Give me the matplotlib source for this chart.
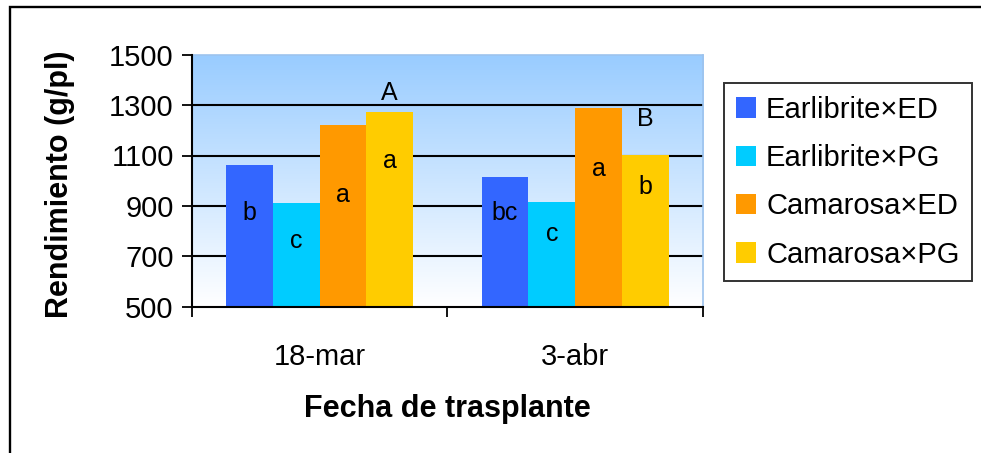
import numpy as np
import matplotlib
matplotlib.use("Agg")
import matplotlib.pyplot as plt
from matplotlib.patches import Rectangle

plt.rcParams['font.family'] = ['Liberation Sans', 'DejaVu Sans']

# --- data ---
fechas = ['18-mar', '3-abr']
series = ['Earlibrite×ED', 'Earlibrite×PG', 'Camarosa×ED', 'Camarosa×PG']
rendimiento = [
    [1063, 1015],   # Earlibrite×ED
    [910, 917],     # Earlibrite×PG
    [1223, 1287],   # Camarosa×ED
    [1271, 1103],   # Camarosa×PG
]
letras = [['b', 'bc'], ['c', 'c'], ['a', 'a'], ['a', 'b']]
letras_y = [[845, 845], [733, 759], [915, 1019], [1050, 948]]
grupo_letra = ['A', 'B']
grupo_y = [1320, 1217]
colores = ['#3366FF', '#00CCFF', '#FF9900', '#FFCC00']

W, H = 981, 453
fig = plt.figure(figsize=(W / 100, H / 100), dpi=100)

# outer chart frame (runs off right and bottom edge)
fig.patches.append(Rectangle((10 / W, -0.05), 1.2, 1.05 - 7 / H,
                             transform=fig.transFigure, fill=False,
                             edgecolor='black', lw=1.7))

ax = fig.add_axes([191.8 / W, 1 - 306.7 / H, (703 - 191.8) / W, (306.7 - 54.7) / H])

# gradient plot area: light blue at top to white at bottom
grad = np.linspace(0, 1, 256)[:, None]
top = np.array([153, 204, 255]) / 255
bot = np.array([255, 255, 255]) / 255
img = top[None, None, :] * (1 - grad[:, :, None]) + bot[None, None, :] * grad[:, :, None]
ax.imshow(img, extent=[0, 1, 0, 1], transform=ax.transAxes, aspect='auto', zorder=0)

x = np.arange(len(fechas))
bw = 0.183
for i, (vals, col) in enumerate(zip(rendimiento, colores)):
    xs = x + (i - 1.5) * bw
    ax.bar(xs, np.array(vals) - 500, bw, bottom=500, color=col, label=series[i], zorder=3)
    for xi, lab, ly in zip(xs, letras[i], letras_y[i]):
        ax.text(xi, ly, lab, ha='center', va='baseline', fontsize=18, zorder=4)
for xi, lab, ly in zip(x + 1.5 * bw, grupo_letra, grupo_y):
    ax.text(xi, ly, lab, ha='center', va='baseline', fontsize=18, zorder=4)

ax.set_xlim(-0.5, 1.5)
ax.set_ylim(500, 1500)
ax.set_yticks([500, 700, 900, 1100, 1300, 1500])
for g in [700, 900, 1100, 1300]:
    ax.axhline(g, color='black', lw=1.5, zorder=1)

ax.set_xticks([-0.5, 0.5, 1.5])
ax.set_xticklabels([])
ax.set_xticks(x, minor=True)
ax.set_xticklabels(fechas, minor=True)
ax.tick_params(axis='x', which='major', length=7, width=1.3, direction='out')
ax.tick_params(axis='x', which='minor', length=0, pad=26, labelsize=21)
ax.tick_params(axis='y', length=7, width=1.3, direction='out', labelsize=21, pad=6)

for s in ['left', 'bottom']:
    ax.spines[s].set_linewidth(1.5)
    ax.spines[s].set_zorder(5)
for s in ['top', 'right']:
    ax.spines[s].set_color('#9DC3EE')
    ax.spines[s].set_linewidth(1.2)

fig.text(447 / W, 1 - 417 / H, 'Fecha de trasplante', ha='center', va='baseline',
         fontsize=22, fontweight='bold')
fig.text(60 / W, 1 - 184 / H, 'Rendimiento (g/pl)', ha='center', va='center',
         rotation=90, fontsize=22, fontweight='bold')

leg = fig.legend(loc='upper left', bbox_to_anchor=(724 / W, 1 - 83.3 / H),
                 fontsize=21, frameon=True, fancybox=False, shadow=False,
                 handlelength=0.66, handleheight=0.7, handletextpad=0.36,
                 labelspacing=0.7, borderpad=0.42, borderaxespad=0)
leg.get_frame().set_edgecolor('black')
leg.get_frame().set_linewidth(1.4)

fig.savefig('out.png', dpi=100)
